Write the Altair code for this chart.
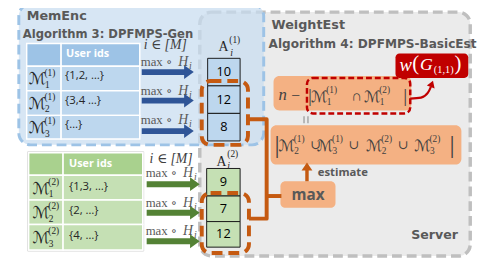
import altair as alt
import pandas as pd

# ---------------- values ----------------
memenc_ids = ["{1,2, …}", "{3,4 …}", "{…}"]
weightest_ids = ["{1,3, …}", "{2, …}", "{4, …}"]
a1_values = [10, 12, 8]
a2_values = [9, 7, 12]
header_text = "User ids"
title_texts = ["MemEnc", "Algorithm 3: DPFMPS-Gen", "WeightEst",
               "Algorithm 4: DPFMPS-BasicEst", "Server"]
intersect_terms = [("1", "(1)"), ("1", "(2)")]                      # (sub, sup)
union_terms = [("2", "(1)"), ("3", "(1)"), ("2", "(2)"), ("3", "(2)")]
set_label = "ℳ"
index_label = "i ∈ [M]"
map_label = "max"
est_label = "estimate"

# ---------------- layout (page pixel frame) ----------------
xs = alt.Scale(domain=[8, 492], nice=False, zero=False)
ys = alt.Scale(domain=[8, 266], nice=False, zero=False, reverse=True)
W, H = 484, 258

GRAY_T = "#595959"
DARK = "#262626"
MATH = "#404040"
ORANGE = "#f4b183"
ORANGE_D = "#c55a11"
RED = "#c00000"
BLUE_A = "#2f5597"
GREEN_A = "#548235"


def X(f="x"):
    return alt.X(f"{f}:Q", scale=xs, axis=None)


def Y(f="y"):
    return alt.Y(f"{f}:Q", scale=ys, axis=None)


def rect_fill(rows, **mk):
    df = pd.DataFrame(rows, columns=["x", "x2", "y", "y2", "fill"])
    return alt.Chart(df).mark_rect(**mk).encode(
        x=X(), x2="x2:Q", y=Y(), y2="y2:Q",
        color=alt.Color("fill:N", scale=None))


def rect_outline(rows, **mk):
    df = pd.DataFrame(rows, columns=["x", "x2", "y", "y2"])
    return alt.Chart(df).mark_rect(filled=False, **mk).encode(
        x=X(), x2="x2:Q", y=Y(), y2="y2:Q")


def texts(rows, font, align="left", style="normal", weight="normal"):
    df = pd.DataFrame(rows, columns=["t", "x", "y", "s", "c"])
    return alt.Chart(df).mark_text(font=font, align=align, baseline="middle",
                                   fontStyle=style, fontWeight=weight).encode(
        x=X(), y=Y(), text="t:N",
        size=alt.Size("s:Q", scale=None),
        color=alt.Color("c:N", scale=None))


def lines(rows, color, width, **mk):
    df = pd.DataFrame(rows, columns=["g", "o", "x", "y"])
    return alt.Chart(df).mark_line(color=color, strokeWidth=width, **mk).encode(
        x=X(), y=Y(), detail="g:N", order="o:Q")


def heads(rows, shape):
    df = pd.DataFrame(rows, columns=["x", "y", "s", "a", "c"])
    return alt.Chart(df).mark_point(shape=shape, filled=True, opacity=1, strokeWidth=0).encode(
        x=X(), y=Y(), size=alt.Size("s:Q", scale=None),
        angle=alt.Angle("a:Q", scale=None),
        color=alt.Color("c:N", scale=None))


layers = []

# --- background containers ---
layers.append(rect_fill([(203, 478, 10, 258, "#ebebeb")], cornerRadius=12))
layers.append(rect_outline([(203, 478, 10, 258)], stroke="#bfbfbf", strokeWidth=3.5,
                           strokeDash=[10, 5], cornerRadius=12))
layers.append(rect_fill([(19, 268, 2, 145, "#c8dcf0")], cornerRadius=12, fillOpacity=0.72))
layers.append(rect_outline([(19, 268, 2, 145)], stroke="#9dc3e6", strokeWidth=3,
                           strokeDash=[10, 5], cornerRadius=12))

# --- tables ---
blue_rows_y = [(65, 90), (90, 115), (115, 139)]
green_rows_y = [(176, 201), (201, 226), (226, 252)]
layers.append(rect_outline([(28, 146, 152, 253)], stroke="#d9d9d9", strokeWidth=1))
cells = [(27, 62, 42, 65, "#9dc3e6"), (62, 142, 42, 65, "#9dc3e6")]
for (a, b) in blue_rows_y:
    cells += [(27, 62, a, b, "#bdd7ee"), (62, 142, a, b, "#bdd7ee")]
cells += [(29, 64, 153, 176, "#a9d18e"), (64, 145, 153, 176, "#a9d18e")]
for (a, b) in green_rows_y:
    cells += [(29, 64, a, b, "#c5e0b4"), (64, 145, a, b, "#c5e0b4")]
layers.append(rect_fill(cells, stroke="white", strokeWidth=1.5))

# --- A columns ---
a1_y = [(57, 85), (85, 113), (113, 141)]
a2_y = [(169, 197), (197, 223), (223, 249)]
acells = [(211, 244, a, b, "#bdd7ee") for (a, b) in a1_y] + \
         [(210, 244, a, b, "#c5e0b4") for (a, b) in a2_y]
layers.append(rect_fill(acells, stroke="#1a1a1a", strokeWidth=1))

# --- orange boxes ---
layers.append(rect_fill([(278, 418, 75, 110, ORANGE), (275, 469, 125, 165, ORANGE)], cornerRadius=6))
layers.append(rect_fill([(285, 341, 182, 209, ORANGE)], cornerRadius=5))
layers.append(rect_fill([(402, 476, 52, 77, RED)], cornerRadius=4))
layers.append(rect_outline([(312, 417, 77, 113)], stroke=RED, strokeWidth=2.5,
                           strokeDash=[6, 3], cornerRadius=6))

# --- orange connectors ---
layers.append(lines([(0, 0, 252, 119), (0, 1, 271, 119), (0, 2, 271, 220), (0, 3, 253, 220),
                     (1, 0, 271, 197), (1, 1, 286, 197)], ORANGE_D, 4, strokeJoin="round"))
layers.append(lines([(0, 0, 312, 182), (0, 1, 312, 168)], ORANGE_D, 3.5))
layers.append(heads([(312, 167, 121, 0, ORANGE_D)], "M-1,0.75L0,-0.75L1,0.75Z"))
layers.append(rect_outline([(205, 252, 80, 145), (205, 253, 194, 255)], stroke=ORANGE_D,
                           strokeWidth=4, strokeDash=[11, 6], cornerRadius=9))

# --- red curved arrow ---
layers.append(lines([(0, 0, 417, 98), (0, 1, 428, 97), (0, 2, 435, 92), (0, 3, 438, 86)],
                    RED, 2.2, interpolate="monotone"))
layers.append(heads([(439, 83, 70, 20, RED)], "M-1,0.8L0,-0.8L1,0.8Z"))

# --- equals sign between boxes ---
layers.append(lines([(0, 0, 309, 116), (0, 1, 309, 123), (1, 0, 313, 116), (1, 1, 313, 123)],
                    "#a6a6a6", 1.5))

# --- blue / green arrows ---
blue_y = [71, 100, 131]
green_y = [185, 214, 243]
shafts = []
hd = []
for k, yy in enumerate(blue_y):
    shafts += [(f"b{k}", 0, 144, yy), (f"b{k}", 1, 190, yy)]
    hd.append((192, yy, 196, 0, BLUE_A))
layers.append(lines(shafts, BLUE_A, 6, strokeCap="butt"))
shafts = []
for k, yy in enumerate(green_y):
    shafts += [(f"g{k}", 0, 149, yy), (f"g{k}", 1, 196, yy)]
    hd.append((198, yy, 196, 0, GREEN_A))
layers.append(lines(shafts, GREEN_A, 6, strokeCap="butt"))
layers.append(heads(hd, "M-0.7,-1L0.7,0L-0.7,1Z"))

# ---------------- texts ----------------
layers.append(texts([
    (title_texts[0], 27, 14.5, 13, GRAY_T),
    (title_texts[1], 23, 32, 11.8, GRAY_T),
    (title_texts[2], 276, 23, 13, GRAY_T),
    (title_texts[3], 273, 42.5, 12.3, GRAY_T),
    (title_texts[4], 418, 237, 12.8, GRAY_T),
], font="DejaVu Sans", weight="bold"))

layers.append(texts([
    (header_text, 67, 53, 11, "white"),
    (header_text, 70, 164, 11, "white"),
    (est_label, 323, 174, 11.5, GRAY_T),
], font="Open Sans", weight="bold"))
layers.append(texts([(map_label, 313, 196, 15.5, GRAY_T)], font="Open Sans", weight="bold",
                    align="center"))

id_rows = []
for k, (a, b) in enumerate(blue_rows_y):
    id_rows.append((memenc_ids[k], 66, (a + b) / 2 - 2, 11.5, DARK))
for k, (a, b) in enumerate(green_rows_y):
    id_rows.append((weightest_ids[k], 70, (a + b) / 2 - 1, 11.5, DARK))
layers.append(texts(id_rows, font="Open Sans"))

val_rows = []
for k, (a, b) in enumerate(a1_y):
    val_rows.append((str(a1_values[k]), 227.5, (a + b) / 2, 13, "black"))
for k, (a, b) in enumerate(a2_y):
    val_rows.append((str(a2_values[k]), 227, (a + b) / 2, 13, "black"))
layers.append(texts(val_rows, font="Open Sans", align="center"))

# math: script M's, upright pieces, italic pieces
script_rows, up_rows, it_rows = [], [], []


def mterm(x, y, sub, sup, col, size=16.5):
    script_rows.append((set_label, x, y + 1, size, col))
    up_rows.append((sup, x + size - 0.5, y - 6, 9.5, col))
    up_rows.append((sub, x + size, y + 6.5, 9.5, col))


for k, (a, b) in enumerate(blue_rows_y):
    mterm(29, (a + b) / 2, str(k + 1), "(1)", DARK)
for k, (a, b) in enumerate(green_rows_y):
    mterm(33, (a + b) / 2, str(k + 1), "(2)", DARK)

# intersection formula
it_rows.append(("n", 283, 94, 17, MATH))
up_rows += [("−", 296, 95, 16, MATH), ("|", 313, 95, 20, MATH), ("∩", 357, 95, 15, MATH),
            ("|", 410, 95, 20, MATH)]
mterm(316, 95, intersect_terms[0][0], intersect_terms[0][1], MATH, 16)
mterm(370, 95, intersect_terms[1][0], intersect_terms[1][1], MATH, 16)

# union formula
up_rows += [("|", 279, 145, 26, MATH), ("|", 457, 145, 26, MATH)]
ux = [283, 322, 372, 421]
for k, (sub, sup) in enumerate(union_terms):
    mterm(ux[k], 145, sub, sup, MATH, 16)
    if k < 3:
        up_rows.append(("∪", ux[k] + 32.5, 145, 13, MATH))

# A labels
up_rows += [("A", 222, 46, 14, DARK), ("(1)", 233, 38, 9.5, DARK),
            ("A", 220, 162, 14, DARK), ("(2)", 231, 154, 9.5, DARK)]
it_rows += [("i", 234, 52, 10, DARK), ("i", 231, 167, 10, DARK)]

# arrow labels
it_rows += [(index_label, 146, 44, 14, MATH), (index_label, 152, 159, 14, MATH)]
for yy, x0 in [(61, 143), (90, 143), (120, 143), (174, 148), (204, 148), (233, 148)]:
    up_rows.append((map_label + " ∘", x0, yy, 13, GRAY_T))
    it_rows.append(("H", x0 + 38, yy, 14, GRAY_T))
    it_rows.append(("i", x0 + 49, yy + 4, 10, GRAY_T))

# weight label in red box
it_rows += [("w", 406, 64, 19, "white"), ("G", 427, 64, 18, "white")]
up_rows += [("(", 419, 63, 21, "white"), ("(1,1)", 441, 69, 10.5, "white"),
            (")", 462, 63, 21, "white")]

layers.append(texts(script_rows, font="DejaVu Serif, DejaVu Sans"))
layers.append(texts(up_rows, font="Liberation Serif, DejaVu Serif"))
layers.append(texts(it_rows, font="Liberation Serif, DejaVu Serif", style="italic"))

chart = alt.layer(*layers).properties(width=W, height=H, padding=0, autosize="none") \
    .configure_view(stroke=None)

chart.save("out.html", embed_options={"renderer": "svg", "actions": False})
